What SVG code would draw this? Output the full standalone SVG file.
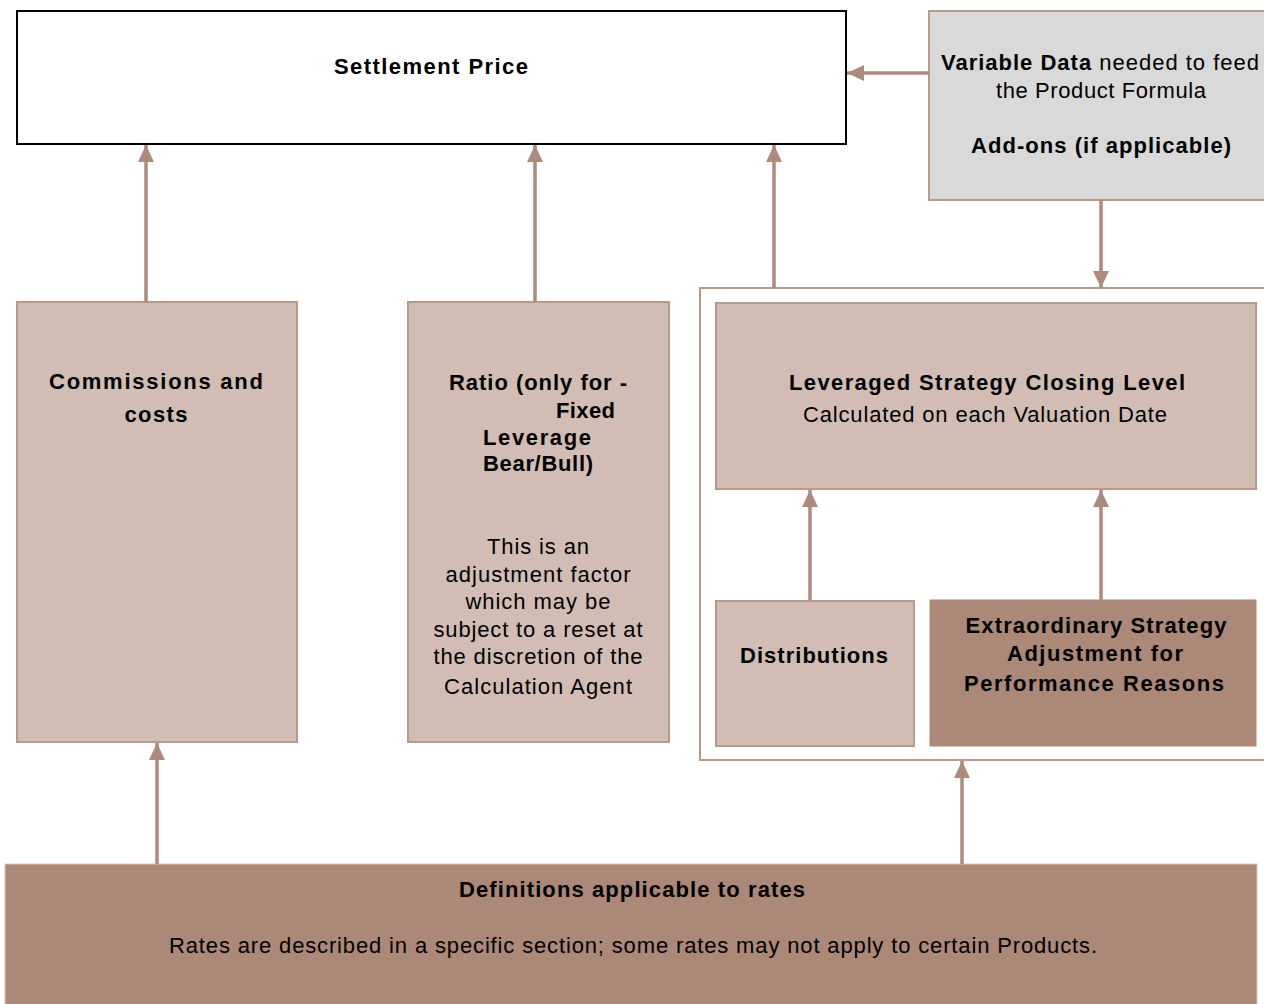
<svg xmlns="http://www.w3.org/2000/svg" width="1264" height="1004" viewBox="0 0 1264 1004">
<style>
.t{font-family:"Liberation Sans",Arial,sans-serif;font-size:22px;fill:#000}
.b{font-weight:bold}
.c{text-anchor:middle}
.light{fill:#d2bdb4;stroke:#b8998b;stroke-width:2}
.dark{fill:#ab8878;stroke:#ab8878;stroke-width:1}
.con line{stroke:#ad8a7c;stroke-width:3.5;marker-end:url(#ah)}
</style>
<defs>
<marker id="ah" markerUnits="userSpaceOnUse" markerWidth="17" markerHeight="16" refX="17" refY="8" orient="auto">
<path d="M0,0 L17,8 L0,16 z" fill="#ad8a7c"/>
</marker>
</defs>
<rect width="1264" height="1004" fill="#fff"/>

<g id="container">
<rect x="700" y="288" width="580" height="472" fill="#fff" stroke="#b8998b" stroke-width="2"/>
</g>

<g id="settlement">
<rect x="17" y="11" width="829" height="133" fill="#fff" stroke="#000" stroke-width="2"/>
<text class="t b c" x="431" y="74" textLength="194" lengthAdjust="spacing">Settlement Price</text>
</g>

<g id="variable-data">
<rect x="929" y="11" width="345" height="189" fill="#d9d9d9" stroke="#b8998b" stroke-width="2"/>
<text class="t c" x="1100" y="70" textLength="318" lengthAdjust="spacing"><tspan class="b">Variable Data</tspan> needed to feed</text>
<text class="t c" x="1101" y="98" textLength="210" lengthAdjust="spacing">the Product Formula</text>
<text class="t b c" x="1101" y="153" textLength="260" lengthAdjust="spacing">Add-ons (if applicable)</text>
</g>

<g id="commissions">
<rect class="light" x="17" y="302" width="280" height="440"/>
<text class="t b c" x="156" y="389" textLength="214" lengthAdjust="spacing">Commissions and</text>
<text class="t b c" x="156" y="422" textLength="63" lengthAdjust="spacing">costs</text>
</g>

<g id="ratio">
<rect class="light" x="408" y="302" width="261" height="440"/>
<text class="t b" x="449" y="390" textLength="178" lengthAdjust="spacing">Ratio (only for -</text>
<text class="t b" x="556" y="418" textLength="59" lengthAdjust="spacing">Fixed</text>
<text class="t b" x="483" y="445" textLength="108" lengthAdjust="spacing">Leverage</text>
<text class="t b" x="483" y="471" textLength="110" lengthAdjust="spacing">Bear/Bull)</text>
<text class="t c" x="538" y="554" textLength="102" lengthAdjust="spacing">This is an</text>
<text class="t c" x="538" y="582" textLength="185" lengthAdjust="spacing">adjustment factor</text>
<text class="t c" x="538" y="609" textLength="145" lengthAdjust="spacing">which may be</text>
<text class="t c" x="538" y="637" textLength="209" lengthAdjust="spacing">subject to a reset at</text>
<text class="t c" x="538" y="664" textLength="209" lengthAdjust="spacing">the discretion of the</text>
<text class="t c" x="538" y="694" textLength="188" lengthAdjust="spacing">Calculation Agent</text>
</g>

<g id="leveraged">
<rect class="light" x="716" y="303" width="540" height="186"/>
<text class="t b c" x="987" y="390" textLength="396" lengthAdjust="spacing">Leveraged Strategy Closing Level</text>
<text class="t c" x="985" y="422" textLength="364" lengthAdjust="spacing">Calculated on each Valuation Date</text>
</g>

<g id="distributions">
<rect class="light" x="716" y="601" width="198" height="145"/>
<text class="t b c" x="814" y="663" textLength="148" lengthAdjust="spacing">Distributions</text>
</g>

<g id="extraordinary">
<rect class="dark" x="930" y="600" width="326" height="146"/>
<text class="t b c" x="1096" y="633" textLength="261" lengthAdjust="spacing">Extraordinary Strategy</text>
<text class="t b c" x="1095" y="661" textLength="176" lengthAdjust="spacing">Adjustment for</text>
<text class="t b c" x="1094" y="691" textLength="260" lengthAdjust="spacing">Performance Reasons</text>
</g>

<g id="definitions">
<rect x="5" y="864" width="1252" height="145" fill="#ab8878" stroke="#d8c4bb" stroke-width="1"/>
<text class="t b c" x="632" y="897" textLength="346" lengthAdjust="spacing">Definitions applicable to rates</text>
<text class="t c" x="633" y="953" textLength="928" lengthAdjust="spacing">Rates are described in a specific section; some rates may not apply to certain Products.</text>
</g>

<g id="connectors" class="con">
<line x1="929" y1="73" x2="847" y2="73"/>
<line x1="1101" y1="200" x2="1101" y2="288"/>
<line x1="146" y1="302" x2="146" y2="145"/>
<line x1="535" y1="302" x2="535" y2="145"/>
<line x1="774" y1="288" x2="774" y2="145"/>
<line x1="810" y1="600" x2="810" y2="490"/>
<line x1="1101" y1="600" x2="1101" y2="490"/>
<line x1="157" y1="864" x2="157" y2="743"/>
<line x1="962" y1="864" x2="962" y2="761"/>
</g>
</svg>
